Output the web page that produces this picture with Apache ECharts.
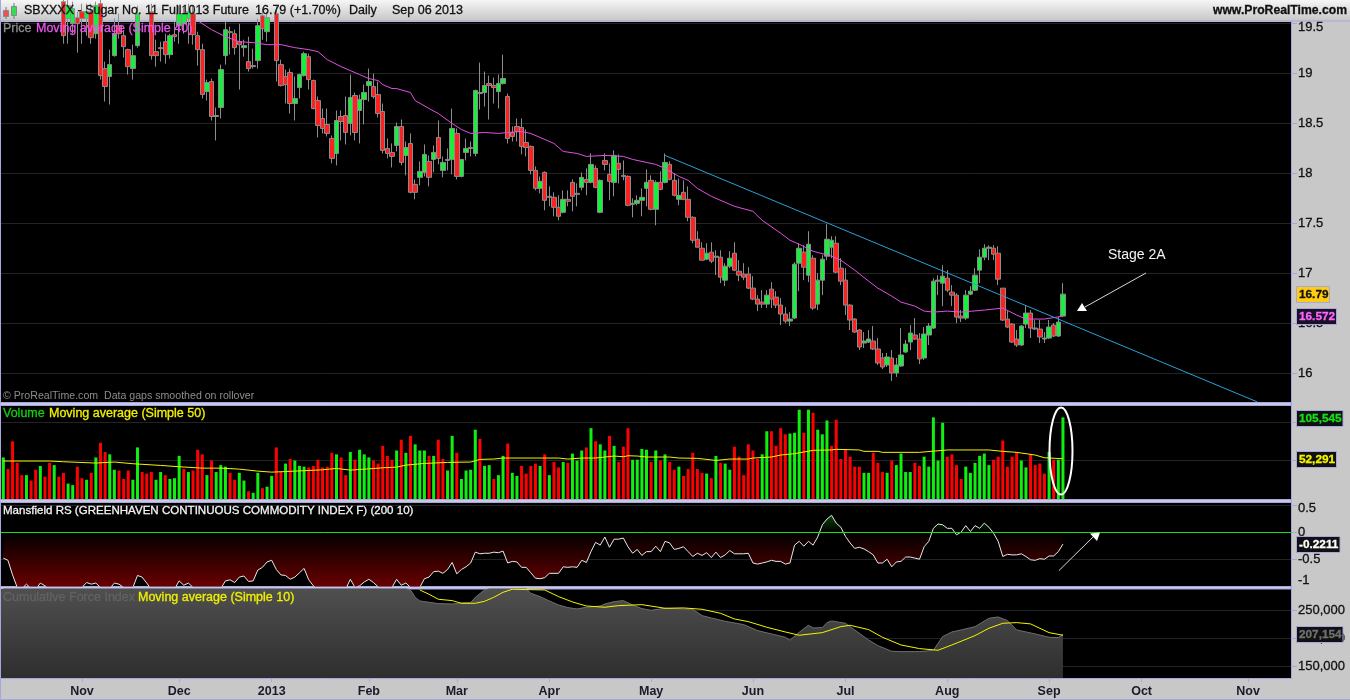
<!DOCTYPE html>
<html>
<head>
<meta charset="utf-8">
<title>Sugar No. 11 daily</title>
<script src="https://cdn.jsdelivr.net/npm/echarts@6/dist/echarts.min.js"></script>
<style>
  html, body { margin: 0; padding: 0; background: #c8c8c8; }
  #chart { width: 1350px; height: 700px; }
</style>
</head>
<body>
<div id="chart"></div>
<script>
// category slots: traded bars plus the empty space to the right of the last one
const slotCount = 279;
const monthIndex = [17, 38, 58, 79, 98, 118, 140, 162, 182, 204, 226, 246, 269];
const monthLabels = ["Nov", "Dec", "2013", "Feb", "Mar", "Apr", "May", "Jun", "Jul", "Aug", "Sep", "Oct", "Nov"];

// open, close, low, high (the first bars sit above the visible range)
const priceBars = [
  [19.70,19.85,19.62,19.92],[19.85,19.72,19.65,19.90],[19.72,19.62,19.57,19.80],[19.65,19.60,19.56,19.78],[19.68,19.60,19.56,19.75],
  [19.60,19.72,19.57,19.80],[19.75,19.65,19.60,19.80],[19.72,19.62,19.58,19.78],[19.62,19.80,19.60,19.85],[19.85,19.75,19.70,19.92],
  [19.82,19.70,19.62,19.88],[19.70,19.88,19.66,19.95],[19.90,19.75,19.62,19.95],[19.72,19.38,19.30,19.80],[19.55,19.68,19.30,19.75],
  [19.50,19.65,19.40,19.72],[19.56,19.50,19.21,19.62],[19.62,19.55,19.30,19.70],[19.55,19.62,19.38,19.70],[19.62,19.36,19.30,19.70],
  [19.40,19.68,19.35,19.72],[19.70,18.98,18.94,19.80],[19.05,18.87,18.72,19.12],[18.97,19.09,18.69,19.24],[19.18,19.40,19.17,19.55],
  [19.48,19.40,19.35,19.60],[19.38,19.27,19.16,19.43],[19.24,19.07,18.99,19.25],[19.05,19.18,18.94,19.29],[19.28,19.60,19.26,19.68],
  [19.70,19.60,19.52,19.75],[19.70,19.58,19.52,19.78],[19.62,19.18,19.14,19.70],[19.22,19.18,19.07,19.34],[19.26,19.25,19.12,19.32],
  [19.32,19.19,19.10,19.40],[19.19,19.38,19.15,19.40],[19.39,19.37,19.32,19.52],[19.48,19.60,19.30,19.68],[19.50,19.60,19.40,19.66],
  [19.55,19.62,19.30,19.70],[19.60,19.39,19.29,19.68],[19.38,19.24,19.08,19.42],[19.24,18.79,18.75,19.30],[18.82,18.91,18.73,18.94],
  [18.92,18.57,18.53,18.95],[18.58,18.57,18.33,18.66],[18.66,19.04,18.55,19.09],[19.18,19.44,19.09,19.52],[19.42,19.41,19.19,19.47],
  [19.40,19.26,19.19,19.44],[19.32,19.29,18.84,19.50],[19.26,19.28,19.17,19.34],[19.12,19.05,19.02,19.37],[19.08,19.07,19.05,19.25],
  [19.13,19.48,19.05,19.55],[19.58,19.45,19.34,19.65],[19.42,19.56,19.32,19.62],[19.55,19.62,19.52,19.70],[19.60,19.13,18.92,19.68],
  [19.09,18.88,18.87,19.14],[18.97,18.89,18.70,19.04],[19.01,18.70,18.60,19.05],[18.70,18.75,18.53,18.97],[18.86,18.99,18.75,19.00],
  [18.98,19.20,18.97,19.22],[19.17,18.94,18.84,19.20],[18.93,18.65,18.64,18.94],[18.73,18.48,18.36,18.77],[18.55,18.45,18.40,18.65],
  [18.49,18.40,18.37,18.65],[18.35,18.15,18.10,18.38],[18.20,18.53,18.08,18.63],[18.57,18.52,18.33,18.63],[18.58,18.41,18.29,18.77],
  [18.50,18.76,18.38,18.99],[18.78,18.41,18.33,18.81],[18.63,18.74,18.30,18.79],[18.74,18.81,18.49,18.89],[18.88,18.92,18.72,19.05],
  [18.87,18.77,18.75,19.00],[18.79,18.60,18.56,18.92],[18.62,18.23,18.20,18.70],[18.25,18.20,18.15,18.35],[18.21,18.17,18.06,18.30],
  [18.28,18.47,18.22,18.51],[18.47,18.11,18.08,18.54],[18.18,18.26,17.98,18.32],[18.30,17.81,17.80,18.40],[17.89,17.81,17.74,17.94],
  [17.96,18.02,17.88,18.12],[18.01,18.19,17.97,18.29],[18.12,17.96,17.87,18.18],[18.14,18.21,18.01,18.28],[18.36,18.15,18.09,18.53],
  [18.03,18.11,17.96,18.17],[18.13,18.14,18.03,18.25],[18.14,18.45,17.99,18.65],[18.40,17.97,17.94,18.45],[17.97,18.14,17.96,18.14],
  [18.21,18.25,18.13,18.35],[18.26,18.25,18.17,18.32],[18.20,18.83,18.17,18.84],[18.80,18.81,18.64,19.11],[18.81,18.88,18.67,19.02],
  [18.90,18.88,18.54,18.98],[18.88,18.86,18.70,18.96],[18.82,18.90,18.65,18.99],[18.90,18.95,18.89,19.19],[18.77,18.35,18.30,18.80],
  [18.41,18.37,18.32,18.47],[18.47,18.42,18.32,18.55],[18.46,18.27,18.19,18.55],[18.31,18.26,18.17,18.44],[18.27,18.03,17.99,18.28],
  [18.03,17.85,17.83,18.07],[17.85,17.92,17.80,17.97],[18.01,17.73,17.63,18.02],[17.77,17.76,17.67,17.87],[17.76,17.66,17.57,17.81],
  [17.66,17.57,17.53,17.78],[17.61,17.74,17.60,17.83],[17.74,17.72,17.67,17.83],[17.91,17.77,17.62,17.94],[17.80,17.79,17.67,17.90],
  [17.86,17.96,17.83,18.01],[17.94,17.91,17.78,18.05],[17.91,18.09,17.90,18.20],[18.05,17.86,17.85,18.08],[17.61,17.93,17.60,17.94],
  [18.13,18.09,18.03,18.20],[17.99,17.92,17.73,18.10],[17.91,18.18,17.77,18.23],[18.10,18.04,17.90,18.19],[17.98,17.97,17.93,18.13],
  [17.97,17.68,17.67,17.98],[17.69,17.70,17.56,17.75],[17.70,17.73,17.68,17.78],[17.73,17.76,17.57,17.85],[17.85,17.91,17.67,18.04],
  [17.93,17.64,17.63,17.98],[17.64,17.91,17.48,17.93],[17.91,17.84,17.83,18.02],[17.91,18.11,17.90,18.20],[18.09,17.94,17.93,18.12],
  [17.93,17.78,17.77,18.00],[17.74,17.78,17.68,17.95],[17.81,17.74,17.73,17.93],[17.74,17.56,17.52,17.87],[17.56,17.33,17.30,17.57],
  [17.34,17.26,17.26,17.42],[17.25,17.13,17.13,17.31],[17.14,17.20,17.13,17.30],[17.21,17.12,17.10,17.31],[17.16,17.17,16.98,17.23],
  [17.16,16.96,16.90,17.23],[16.93,17.07,16.87,17.10],[17.07,17.15,17.05,17.22],[17.20,17.03,17.02,17.31],[17.02,16.98,16.92,17.13],
  [16.99,16.96,16.93,17.10],[16.99,16.85,16.84,17.06],[16.85,16.74,16.73,16.97],[16.74,16.69,16.62,16.78],[16.71,16.69,16.65,16.83],
  [16.69,16.78,16.65,16.83],[16.84,16.74,16.65,16.91],[16.76,16.68,16.65,16.82],[16.68,16.59,16.48,16.75],[16.59,16.52,16.50,16.66],
  [16.52,16.54,16.47,16.61],[16.55,17.09,16.54,17.11],[17.10,17.25,16.82,17.30],[17.21,17.06,16.93,17.28],[16.98,17.29,16.91,17.42],
  [17.15,16.65,16.63,17.18],[16.69,16.93,16.63,17.00],[16.93,17.14,16.78,17.18],[17.17,17.34,17.13,17.49],[17.26,17.33,17.15,17.37],
  [17.30,17.01,17.00,17.37],[17.05,16.92,16.88,17.15],[16.93,16.68,16.58,17.05],[16.68,16.53,16.43,16.69],[16.54,16.41,16.40,16.55],
  [16.43,16.26,16.23,16.44],[16.30,16.32,16.25,16.41],[16.31,16.34,16.30,16.43],[16.32,16.24,16.23,16.47],[16.24,16.10,16.08,16.35],
  [16.15,16.06,16.04,16.20],[16.08,16.16,16.06,16.20],[16.15,16.00,15.92,16.23],[16.00,16.08,15.96,16.15],[16.07,16.18,16.06,16.45],
  [16.21,16.29,16.20,16.33],[16.31,16.40,16.23,16.48],[16.38,16.34,16.33,16.55],[16.34,16.14,16.09,16.40],[16.15,16.39,16.13,16.46],
  [16.38,16.47,16.28,16.50],[16.45,16.92,16.44,16.95],[16.92,16.93,16.78,16.98],[16.90,16.97,16.67,17.08],[16.95,16.83,16.81,17.03],
  [16.81,16.78,16.67,16.88],[16.78,16.56,16.50,16.80],[16.57,16.55,16.51,16.63],[16.55,16.78,16.53,16.83],[16.79,16.82,16.78,16.87],
  [16.83,16.98,16.82,17.05],[17.03,17.16,16.90,17.24],[17.16,17.25,17.13,17.29],[17.25,17.26,17.13,17.28],[17.25,17.19,17.13,17.28],
  [17.20,16.94,16.88,17.27],[16.85,16.53,16.52,16.85],[16.54,16.46,16.45,16.62],[16.49,16.31,16.30,16.50],[16.34,16.28,16.26,16.43],
  [16.28,16.47,16.27,16.48],[16.49,16.60,16.45,16.68],[16.60,16.45,16.35,16.63],[16.45,16.44,16.43,16.53],[16.44,16.36,16.30,16.53],
  [16.34,16.35,16.30,16.41],[16.35,16.46,16.34,16.53],[16.48,16.37,16.36,16.50],[16.37,16.51,16.36,16.56],[16.57,16.79,16.56,16.90]
];

// [bar index, value] samples of the 40 day average
const ma40Points = [
  [0,20.0],[20,19.85],[35,19.65],[42,19.53],[45,19.44],[48,19.37],[51,19.32],[54,19.31],[57,19.29],[60,19.29],[63,19.26],[66,19.24],[68,19.22],[70,19.14],
  [73,19.07],[75,19.03],[77,18.99],[79,18.95],[81,18.93],[82,18.89],[84,18.85],[85,18.85],[88,18.81],[89,18.73],[92,18.65],[94,18.60],[97,18.50],[99,18.44],
  [101,18.40],[104,18.41],[107,18.40],[109,18.41],[112,18.42],[114,18.40],[116,18.36],[119,18.30],[121,18.22],[124,18.20],[126,18.17],[130,18.18],[134,18.17],
  [136,18.14],[141,18.09],[143,18.05],[146,17.97],[148,17.93],[150,17.85],[153,17.77],[156,17.71],[158,17.67],[162,17.62],[164,17.53],[168,17.40],[170,17.33],
  [172,17.29],[175,17.22],[179,17.17],[181,17.13],[184,17.03],[187,16.92],[189,16.85],[192,16.77],[194,16.71],[197,16.67],[199,16.62],[201,16.61],[204,16.62],
  [207,16.61],[212,16.63],[216,16.65],[219,16.58],[221,16.54],[225,16.54],[229,16.57]
];

// upper trend line end points
const trendLine = [[143, 18.18], [271, 15.71]];

// volume in thousands
const volumes = [
  54,39,75,47,31,31,24,38,43,29,47,44,29,34,20,18,42,27,25,34,
  54,73,61,58,38,37,26,37,25,67,35,33,35,25,35,31,26,27,56,39,
  35,37,64,58,31,50,35,44,42,34,25,34,24,10,8,34,14,16,30,67,
  35,46,52,50,43,42,41,43,51,41,42,60,58,54,31,61,51,64,58,54,
  50,46,69,56,51,63,77,60,82,71,63,63,56,56,77,52,37,82,60,26,
  37,38,90,78,43,44,26,31,56,72,34,30,43,33,43,46,43,58,31,48,
  41,48,47,59,50,63,67,92,75,71,63,82,69,48,68,92,51,51,65,64,
  48,63,50,58,48,38,42,30,39,60,39,34,33,27,56,47,46,38,68,55,
  31,71,63,52,58,88,88,69,92,84,85,86,116,86,116,112,90,84,102,69,
  103,52,65,55,42,42,34,34,60,47,35,34,50,44,59,35,35,47,43,55,
  42,106,50,99,55,58,44,26,42,34,47,56,59,44,51,55,76,42,55,61,
  50,41,58,44,46,33,61,51,51,106
];
// g = up day colour, r = down day colour
const volumeDirs = "grrrrgrrgr" + "rgrrggrrgr" + "grrggrrrgg" + "rrrggrgggr" + "grrrgrgggr" + "rggrggrggr" +
  "rgrgggrrrr" + "rrgrrgrggg" + "rrrrrgrgrg" + "ggrgrrggrg" + "gggrggrggr" + "ggrrrrgrgr" +
  "rgrgggrgrg" + "grgrrrgggg" + "rgrgrrgrrr" + "rrgrgrggrr" + "rrrrggrrrr" + "gggrgrgggr" +
  "rrrrrrggrr" + "rgrggggrrg" + "ggggrrrrgg" + "ggggrrrrrr" + "ggrrrrgrgg";

const volumeMaPoints = [
  [0,49.3],[10,49.3],[13,48.4],[20,46.7],[24,48],[28,45.8],[34,43.6],[38,41.9],[43,40.1],[47,40.1],[51,38.8],[55,36.2],[58,34.9],[63,36.2],[69,37.9],[72,39.7],
  [75,37.5],[79,39.2],[82,40.5],[85,41.4],[87,44],[91,46.2],[96,47.5],[101,48],[103,51.4],[106,51.9],[108,53.2],[120,53.2],[122,51.9],[125,53.2],[128,53.2],
  [132,55.8],[134,54.9],[135,56.2],[137,55.8],[139,54.5],[144,54.5],[146,53.2],[150,52.8],[154,50.1],[157,51.9],[161,51.9],[162,53.2],[166,54.5],[168,57.1],
  [171,58.9],[175,63.2],[179,63.7],[180,64.5],[185,63.7],[186,61.9],[189,61.9],[190,60.6],[194,60.6],[198,60.6],[204,63.7],[213,63.7],[216,61.9],[219,60.6],
  [223,57.1],[225,53.6],[229,52.3]
];

// Mansfield relative strength, one value per bar
const mansfieldRs = [
  -.48,-.52,-.79,-1.02,-1.04,-.96,-1.04,-1.06,-.94,-.99,-1.06,-1.1,-1.12,-1.1,-1.12,-1.14,-1.1,-1.02,-.93,-.96,
  -.94,-1.02,-1.07,-1.04,-.94,-.96,-1.02,-1.07,-1.02,-.80,-.83,-.94,-1.06,-1.1,-1.12,-1.1,-1.08,-1.05,-.90,-.98,
  -.94,-1.02,-1.08,-1.12,-1.1,-1.14,-1.12,-1.04,-.90,-.88,-.93,-.83,-.81,-.91,-.90,-.70,-.65,-.55,-.52,-.69,
  -.79,-.80,-.87,-.83,-.75,-.67,-.88,-.99,-1.06,-1.1,-1.14,-1.12,-1.1,-1.08,-1.05,-.87,-1.02,-.99,-.92,-.87,
  -.93,-1.01,-1.06,-1.06,-1.02,-.87,-.98,-.94,-1.02,-1.06,-1.02,-.86,-.83,-.73,-.72,-.76,-.69,-.56,-.77,-.69,
  -.64,-.57,-.37,-.40,-.39,-.39,-.37,-.38,-.35,-.57,-.54,-.55,-.65,-.65,-.75,-.85,-.86,-.84,-.76,-.76,
  -.76,-.64,-.65,-.64,-.65,-.52,-.56,-.36,-.19,-.24,-.09,-.28,-.13,-.13,-.11,-.27,-.39,-.32,-.43,-.36,
  -.36,-.26,-.36,-.17,-.20,-.32,-.30,-.27,-.36,-.45,-.39,-.43,-.38,-.47,-.37,-.47,-.42,-.34,-.40,-.40,
  -.40,-.39,-.57,-.59,-.57,-.55,-.52,-.54,-.54,-.59,-.57,-.24,-.17,-.26,-.17,-.24,-.09,.135,.24,.31,
  .166,.09,-.08,-.20,-.30,-.28,-.31,-.36,-.42,-.57,-.57,-.50,-.64,-.55,-.54,-.46,-.46,-.48,-.50,-.27,
  -.17,.07,.15,.135,.07,.07,-.05,0,.12,.01,.12,.07,.166,.09,-.02,-.17,-.45,-.41,-.42,-.42,
  -.40,-.45,-.51,-.52,-.49,-.50,-.44,-.44,-.36,-.2211
];

// cumulative force index in thousands, [bar index, value]
const forceIndexPoints = [
  [0,300],[87,289],[88,286.3],[89,273.2],[90,266.7],[92,264.3],[94,261.9],[97,261.3],[99,263.1],[101,263.7],[102,273.2],[104,286.3],[105,288.7],[113,288.7],
  [114,280.3],[116,274.4],[118,266.7],[120,259.5],[122,254.8],[124,252.4],[126,255.4],[129,257.7],[130,261.3],[132,265.5],[134,267.3],[136,259.5],[138,253],
  [140,250],[143,253.6],[149,251.8],[151,240.5],[153,236.3],[156,230.4],[160,224.4],[163,213.7],[166,207.8],[169,201.8],[170,196.5],[172,210.7],[174,223.2],
  [175,218.5],[177,219.1],[178,228],[179,231],[182,226.8],[184,214.9],[187,197],[189,186.9],[192,176.8],[194,176.2],[198,176.2],[201,178.6],[203,203],
  [205,211.3],[207,214.9],[210,220.8],[213,235.7],[215,238.1],[217,231.6],[219,214.9],[223,207.8],[226,201.8],[228,201.2],[229,207.154]
];
const forceIndexMaPoints = [
  [90,286.3],[92,278.6],[94,269.7],[97,267.3],[99,262.5],[102,262.5],[104,266],[106,273.2],[108,282.1],[110,287.5],[117,286.3],[120,274.4],[123,264.9],[126,257.7],
  [130,255.4],[133,258.3],[138,260.1],[143,253.6],[147,254.2],[151,251.8],[155,244.6],[158,234.5],[161,229.8],[165,219.7],[169,211.3],[172,205.4],[177,210.1],
  [181,220.8],[183,223.2],[187,215.5],[190,201.8],[194,188.1],[198,181.6],[202,178.6],[205,188.1],[210,204.8],[213,217.9],[216,226.8],[219,228],[222,225.7],
  [226,210.1],[229,205.4]
];

const FONT = '"Liberation Sans", Arial, sans-serif';
const FRAME = "#a6a6e0";
const UP = "#14f03c";
const DOWN = "#ff2020";
const GRID_LINE = "#232323";
const AXIS_TEXT = "#111";

const categories = Array.from({ length: slotCount }, (_, i) => String(i));

function gridBox(top, height) {
  return { left: 1, width: 1291, top, height, show: true, backgroundColor: "#000", borderWidth: 0 };
}

function hiddenXAxis(gridIndex) {
  return { type: "category", gridIndex, data: categories, boundaryGap: true, show: false };
}

function rightAxis(gridIndex, min, max, ticks, labels, formatter) {
  return {
    type: "value",
    gridIndex,
    position: "right",
    min,
    max,
    axisLine: { show: false },
    axisTick: { show: true, length: 5, customValues: ticks, lineStyle: { color: FRAME } },
    splitLine: { show: true, lineStyle: { color: GRID_LINE, width: 1 } },
    axisLabel: {
      show: labels.length > 0,
      customValues: labels,
      margin: 6,
      color: AXIS_TEXT,
      textBorderColor: AXIS_TEXT,
      textBorderWidth: 0.3,
      fontFamily: FONT,
      fontSize: 13,
      formatter,
    },
  };
}

function thousands(v) {
  return (v * 1000).toLocaleString("en-US");
}

// source text is heavy, so every label gets a hair of stroke in its own colour
function label(x, y, text, fill, opts) {
  return {
    type: "text",
    z: 100,
    x,
    y,
    style: Object.assign(
      { text, fill, font: "12.5px " + FONT, textVerticalAlign: "middle", stroke: fill, lineWidth: 0.3 },
      opts || {}
    ),
  };
}

function valueTag(x, y, w, text, fill, bg) {
  return [
    { type: "rect", z: 100, shape: { x, y, width: w, height: 16 }, style: { fill: bg, stroke: FRAME, lineWidth: 1 } },
    label(x + 2.5, y + 8.5, text, fill, { font: "bold 11.8px " + FONT }),
  ];
}

function band(y, h) {
  return { type: "rect", z: 1, shape: { x: 0, y, width: 1291, height: h }, style: { fill: "#c9c9e4", stroke: FRAME, lineWidth: 1 } };
}

function candleIcon() {
  return [
    { type: "line", z: 100, shape: { x1: 6, y1: 7, x2: 6, y2: 19 }, style: { stroke: "#777", lineWidth: 1 } },
    { type: "rect", z: 100, shape: { x: 3.5, y: 10.5, width: 5, height: 6 }, style: { fill: "#f05050", stroke: "#888" } },
    { type: "line", z: 100, shape: { x1: 14, y1: 3, x2: 14, y2: 19 }, style: { stroke: "#777", lineWidth: 1 } },
    { type: "rect", z: 100, shape: { x: 11.5, y: 6.5, width: 5, height: 9 }, style: { fill: "#30e050", stroke: "#888" } },
  ];
}

const HEADER_FONT = "12.5px " + FONT;

const annotations = [
  { type: "rect", z: 1, shape: { x: 0, y: 0, width: 1350, height: 21 },
    style: { fill: { type: "linear", x: 0, y: 0, x2: 0, y2: 1, colorStops: [{ offset: 0, color: "#f6f6f6" }, { offset: 1, color: "#c6c6c6" }] } } },
  { type: "rect", z: 1, shape: { x: 0, y: 20.5, width: 1350, height: 1 }, style: { fill: FRAME } },
  { type: "rect", z: 1, shape: { x: 0, y: 699, width: 1350, height: 1 }, style: { fill: FRAME } },
  { type: "rect", z: 1, shape: { x: 0, y: 0, width: 1, height: 700 }, style: { fill: FRAME } },
  { type: "rect", z: 1, shape: { x: 1291, y: 21, width: 1, height: 658 }, style: { fill: FRAME } },
  band(402.5, 3),
  band(499.5, 3),
  band(586.5, 2.5),
  // force index fill reaches the panel's left edge
  { type: "rect", z: 1, shape: { x: 1, y: 589, width: 3, height: 89 },
    style: { fill: { type: "linear", x: 0, y: 0, x2: 0, y2: 1, colorStops: [{ offset: 0, color: "#4f4f4f" }, { offset: 1, color: "#2e2e2e" }] } } },
  ...candleIcon(),
  label(24, 11, "SBXXXX - Sugar No. 11 Full1013 Future", "#111", { font: HEADER_FONT }),
  label(255, 11, "16.79 (+1.70%)", "#111", { font: HEADER_FONT }),
  label(349, 11, "Daily", "#111", { font: HEADER_FONT }),
  label(392, 11, "Sep 06 2013", "#111", { font: HEADER_FONT }),
  label(1347, 11, "www.ProRealTime.com", "#111", { font: "bold 12.2px " + FONT, textAlign: "right" }),

  // axis labels the panel edges would cut off, nudged inwards as in the source chart
  label(1298, 27, "19.5", AXIS_TEXT, { font: "13px " + FONT }),
  label(1298, 508, "0.5", AXIS_TEXT, { font: "13px " + FONT }),
  label(1298, 580, "-1", AXIS_TEXT, { font: "13px " + FONT }),

  label(3, 29, "Price", "#8c8c8c"),
  label(36, 29, "Moving average (Simple 40)", "#ee55ee"),
  label(3, 396, "© ProRealTime.com  Data gaps smoothed on rollover", "#8c8c8c", { font: "10.6px " + FONT, lineWidth: 0 }),
  label(3, 414, "Volume", "#10d010"),
  label(49, 414, "Moving average (Simple 50)", "#f0f000"),
  label(3, 511, "Mansfield RS (GREENHAVEN CONTINUOUS COMMODITY INDEX F) (200 10)", "#f2f2f2", { font: "11.55px " + FONT }),
  label(3, 598, "Cumulative Force Index", "#626262"),
  label(138, 598, "Moving average (Simple 10)", "#f0f000"),

  label(1108, 255, "Stage 2A", "#f4f4f4", { font: "14px " + FONT, lineWidth: 0 }),
  { type: "line", z: 100, shape: { x1: 1146, y1: 273, x2: 1085, y2: 307 }, style: { stroke: "#d8d8d8", lineWidth: 1 } },
  { type: "polygon", z: 100, shape: { points: [[1077, 311], [1087, 311], [1082, 303]] }, style: { fill: "#fff" } },
  { type: "ellipse", z: 100, shape: { cx: 1061, cy: 451, rx: 11.5, ry: 43.5 }, style: { fill: "none", stroke: "#fff", lineWidth: 2 } },
  { type: "line", z: 100, shape: { x1: 1059, y1: 570.5, x2: 1094, y2: 536 }, style: { stroke: "#d8d8d8", lineWidth: 1 } },
  { type: "polygon", z: 100, shape: { points: [[1090, 533.5], [1100, 532.5], [1097, 541]] }, style: { fill: "#fff" } },

  ...valueTag(1296.5, 286.5, 33, "16.79", "#111", "#ffcc10"),
  ...valueTag(1296.5, 308.5, 40, "16.572", "#ff66ff", "#1a1028"),
  ...valueTag(1296.5, 410.5, 46.5, "105,545", "#14e014", "#111"),
  ...valueTag(1296.5, 451.5, 40, "52,291", "#f4f400", "#111"),
  ...valueTag(1296.5, 536.5, 43.5, "-0.2211", "#fff", "#111"),
  ...valueTag(1296.5, 626.5, 46.5, "207,154", "#707070", "#111"),
];

const option = {
  animation: false,
  backgroundColor: "#c8c8c8",
  textStyle: { fontFamily: FONT },
  grid: [gridBox(22, 380), gridBox(406, 93), gridBox(503, 83), gridBox(589, 89)],
  xAxis: [
    hiddenXAxis(0),
    hiddenXAxis(1),
    hiddenXAxis(2),
    {
      type: "category",
      gridIndex: 3,
      data: categories,
      boundaryGap: true,
      axisLine: { show: true, lineStyle: { color: FRAME } },
      axisTick: { show: true, alignWithLabel: true, length: 4, interval: (i) => monthIndex.includes(i), lineStyle: { color: FRAME } },
      axisLabel: {
        show: true,
        interval: (i) => monthIndex.includes(i),
        margin: 7,
        color: "#1a1a2a",
        fontFamily: FONT,
        fontSize: 12.5,
        fontWeight: "bold",
        formatter: (v, i) => monthLabels[monthIndex.indexOf(i)] || "",
      },
      splitLine: { show: false },
    },
  ],
  yAxis: [
    rightAxis(0, 15.709, 19.517, [16, 16.5, 17, 17.5, 18, 18.5, 19, 19.5], [16, 16.5, 17, 17.5, 18, 18.5, 19], (v) => String(v)),
    rightAxis(1, 0, 120.8, [50, 100], [], null),
    rightAxis(2, -0.994, 0.537, [-0.5, 0, 0.5], [-0.5, 0], (v) => String(v)),
    rightAxis(3, 129.1, 288, [150, 200, 250], [150, 200, 250], thousands),
  ],
  graphic: { elements: annotations },
  series: [
    {
      name: "Price",
      type: "candlestick",
      xAxisIndex: 0,
      yAxisIndex: 0,
      barWidth: 5,
      data: priceBars,
      itemStyle: {
        color: UP,
        color0: DOWN,
        borderColor: "#8c8c8c",
        borderColor0: "#8c8c8c",
        borderColorDoji: "#8c8c8c",
        borderWidth: 1,
      },
    },
    {
      name: "MA40",
      type: "line",
      xAxisIndex: 0,
      yAxisIndex: 0,
      data: ma40Points,
      showSymbol: false,
      lineStyle: { color: "#e050e0", width: 1 },
      z: 4,
    },
    {
      name: "Trend",
      type: "line",
      xAxisIndex: 0,
      yAxisIndex: 0,
      data: trendLine,
      showSymbol: false,
      lineStyle: { color: "#2aa0d8", width: 1 },
      z: 5,
    },
    {
      name: "Volume",
      type: "bar",
      xAxisIndex: 1,
      yAxisIndex: 1,
      barWidth: 3,
      data: volumes.map((v, i) => ({ value: v, itemStyle: { color: volumeDirs[i] === "g" ? "#10f010" : "#ff0000" } })),
    },
    {
      name: "VolumeMA",
      type: "line",
      xAxisIndex: 1,
      yAxisIndex: 1,
      data: volumeMaPoints,
      showSymbol: false,
      lineStyle: { color: "#f4f400", width: 1 },
      z: 4,
    },
    {
      name: "Mansfield",
      type: "line",
      xAxisIndex: 2,
      yAxisIndex: 2,
      data: mansfieldRs,
      showSymbol: false,
      lineStyle: { color: "#e8e8e8", width: 1 },
      areaStyle: {
        origin: 0,
        opacity: 1,
        color: {
          type: "linear", x: 0, y: 503, x2: 0, y2: 586, global: true,
          colorStops: [
            { offset: 0, color: "#0c780c" },
            { offset: 0.353, color: "#000" },
            { offset: 1, color: "#680000" },
          ],
        },
      },
      markLine: {
        silent: true,
        symbol: "none",
        label: { show: false },
        lineStyle: { color: "#18e018", type: "solid", width: 1 },
        data: [{ yAxis: 0 }],
      },
    },
    {
      name: "ForceIndex",
      type: "line",
      xAxisIndex: 3,
      yAxisIndex: 3,
      data: forceIndexPoints,
      showSymbol: false,
      lineStyle: { color: "#6e6e6e", width: 1 },
      areaStyle: {
        origin: "start",
        opacity: 1,
        color: {
          type: "linear", x: 0, y: 589, x2: 0, y2: 678, global: true,
          colorStops: [{ offset: 0, color: "#4f4f4f" }, { offset: 1, color: "#2e2e2e" }],
        },
      },
    },
    {
      name: "ForceIndexMA",
      type: "line",
      xAxisIndex: 3,
      yAxisIndex: 3,
      data: forceIndexMaPoints,
      showSymbol: false,
      lineStyle: { color: "#f4f400", width: 1 },
      z: 4,
    },
  ],
};

const chart = echarts.init(document.getElementById("chart"));
chart.setOption(option);
</script>
</body>
</html>
